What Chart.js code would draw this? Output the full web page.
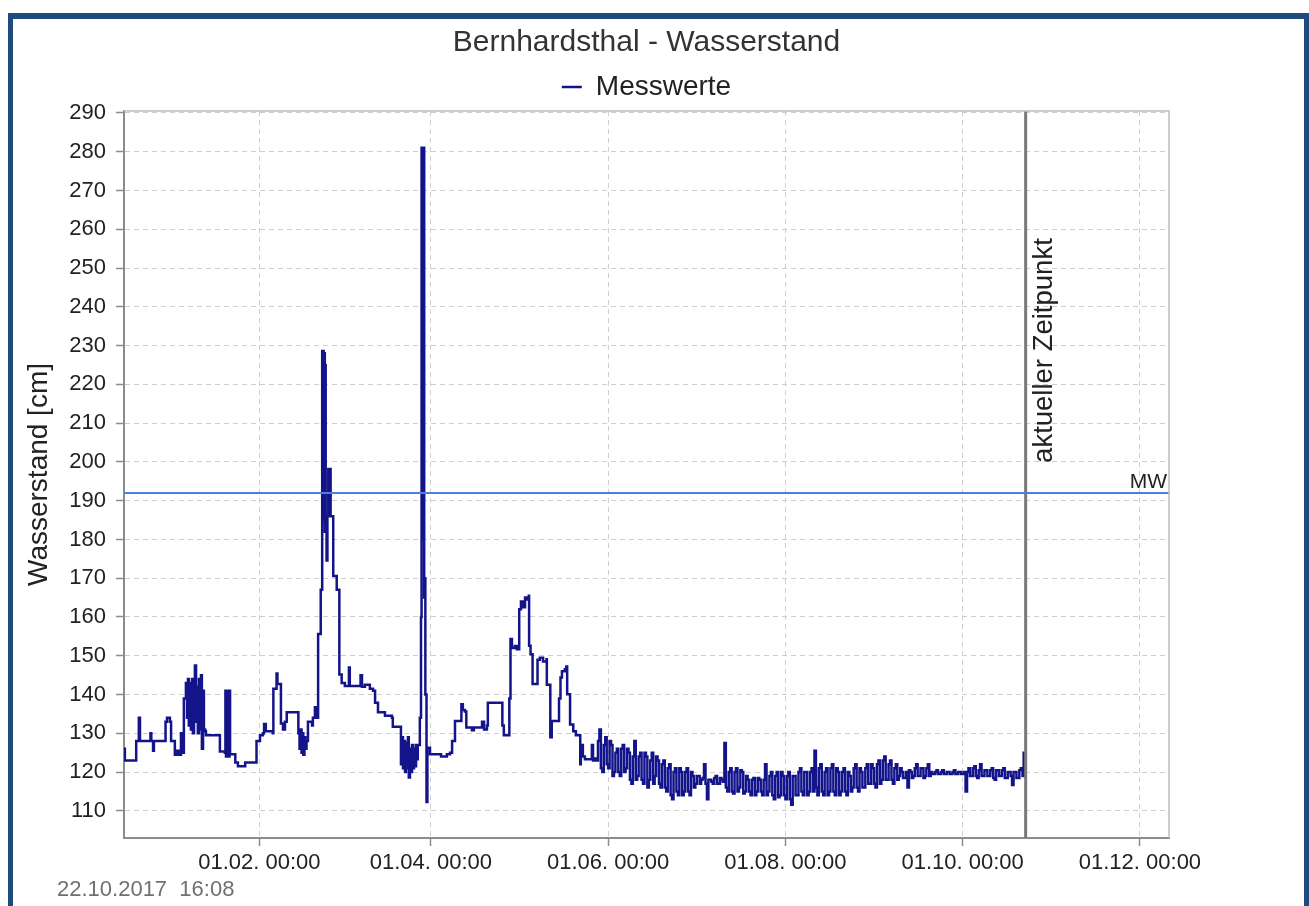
<!DOCTYPE html>
<html>
<head>
<meta charset="utf-8">
<title>Bernhardsthal - Wasserstand</title>
<script src="https://cdn.jsdelivr.net/npm/chart.js@4.4.1/dist/chart.umd.min.js"></script>
<style>
  html, body { margin: 0; padding: 0; background: #fff; overflow: hidden; }
  #frame { position: absolute; left: 8px; top: 13px; width: 1291px; height: 1000px;
           border: 5px solid #1f4a80; border-top-width: 6px; }
  #chart { position: absolute; left: 0; top: 0; }
</style>
</head>
<body>
<div id="frame"></div>
<canvas id="chart" width="1309" height="906"></canvas>
<script>
// Tage ab 01.01.2017 (negativ = Dezember 2016), Wasserstand in cm
// Winter/Fruehjahr bis Ende Mai
const days = [
  -15.6, -15.3, -11.5, -11.4, -10.5, -10.1, -6.7, -6.5, -6.2, -5.6, -5.3, -1.5, -1.3, -0.8, 0.2, 0.6,
  1.2, 1.9, 2.6, 3.3, 4.0, 4.3, 5.0, 5.7, 6.1, 6.4, 6.7, 7.1, 7.4, 7.8, 8.1, 8.5, 8.8, 9.2, 9.5, 9.8,
  10.2, 10.5, 10.9, 11.2, 11.6, 11.9, 12.3, 12.6, 17.1, 17.4, 19.1, 19.3, 19.5, 19.6, 19.8, 20.0, 20.2,
  20.3, 20.5, 20.7, 20.9, 22.6, 22.7, 23.6, 26.1, 29.8, 30.0, 31.2, 32.2, 32.6, 33.2, 35.6, 35.8, 36.9,
  37.2, 38.2, 38.4, 39.1, 39.8, 40.4, 44.3, 44.4, 44.8, 45.1, 45.5, 45.8, 46.1, 46.5, 46.8, 47.2, 47.7,
  49.1, 49.4, 50.1, 50.8, 51.2, 52.1, 52.6, 52.8, 53.0, 53.1, 53.3, 53.5, 53.6, 53.8, 54.1, 54.4, 54.7,
  55.5, 56.4, 57.6, 58.5, 59.3, 60.4, 61.8, 62.1, 65.8, 66.3, 67.3, 69.0, 70.1, 70.8, 71.8, 74.2, 76.6,
  76.9, 79.4, 79.7, 80.1, 80.4, 80.8, 81.1, 81.4, 81.8, 82.1, 82.4, 82.8, 83.1, 83.5, 83.9, 84.2, 84.5,
  84.9, 85.2, 85.5, 86.2, 86.6, 86.8, 87.0, 87.2, 87.4, 87.5, 87.7, 87.9, 88.1, 88.5, 88.8, 89.7, 93.1,
  93.5, 95.2, 95.5, 96.6, 97.3, 98.3, 100.3, 100.5, 101.0, 101.7, 102.2, 103.4, 104.1, 104.8, 106.9,
  107.6, 108.3, 109.3, 109.6, 114.5, 114.6, 115.1, 116.9, 117.0, 117.4, 117.9, 118.9, 119.6, 120.4,
  121.0, 121.7, 122.4, 123.1, 123.7, 123.8, 124.3, 125.0, 126.6, 126.7, 127.5, 128.6, 129.8, 129.9,
  131.0, 131.1, 131.6, 133.7, 134.1, 134.6, 135.1, 136.1, 136.6, 136.9, 137.9, 139.0, 139.9, 141.3,
  141.4, 141.6, 142.3, 143.0, 144.7, 145.4, 145.8, 146.5
];
const levels = [
  126, 123, 123, 128, 134, 128, 128, 130, 128, 125.5, 128, 128, 133, 134, 133, 128,
  128, 124.5, 125.5, 124.5, 130, 125, 139, 143, 134, 144, 132, 143, 131, 144, 130, 142, 147.5, 133, 142, 130,
  144, 131, 145, 126, 141, 131, 130.5, 129.5, 129.5, 125.3, 125, 141, 124, 141, 124, 141, 124,
  141, 124, 141, 124.6, 124.6, 122.5, 121.5, 122.5, 122.5, 128, 129.5, 130, 132.4, 130.5, 130, 141.5, 145.4,
  142.7, 142.7, 132.5, 131, 133, 135.4, 135.4, 130, 126, 131, 125, 130, 124.5, 129, 126, 128, 133,
  132, 134, 136.7, 134, 155.6, 167, 228.6, 190, 228.6, 185, 228, 182, 225, 186, 174.6, 186, 198.2,
  186, 170.6, 167, 145.2, 143, 142.2, 147, 142.2, 145, 142, 142.5, 141.5, 141, 137.9, 135.4, 134.5, 134,
  131.7, 131.7, 122, 129, 121, 128, 120, 127.5, 121, 129, 118.6, 126, 120, 127, 121, 126, 121.5,
  127, 123.3, 127, 134, 160, 281, 200, 281, 180, 281, 165, 170, 140, 112.3, 126.3, 124.6, 124.6,
  124, 124, 124.6, 125, 128, 133.2, 133.2, 137.5, 136, 135.6, 131.5, 131.5, 130.8, 131.5, 131.5,
  133, 131, 132, 137.9, 137.9, 132, 129.5, 129.5, 139, 154.3, 152, 152.5, 151.7, 162,
  164, 162.5, 165, 164.5, 165.5, 152.6, 150.4, 142.7, 142.7, 149, 149.5, 148.5, 149.1, 142.5,
  142.5, 129, 133.2, 133.2, 139, 144.4, 146, 146.5, 147.2, 140.1, 132.3, 130.5, 129.5, 129.5,
  122, 127, 124, 123.3, 123.3, 127, 123, 123.5
];

// Sommer/Herbst: stark schwankende Messwerte (12-h-Raster) bis zum aktuellen Zeitpunkt
const bandDays = [
  147, 147.5, 148, 148.5, 149, 149.5, 150, 150.5, 151, 151.5, 152, 152.5, 153, 153.5, 154, 154.5, 155, 155.5, 156, 156.5,
  157, 157.5, 158, 158.5, 159, 159.5, 160, 160.5, 161, 161.5, 162, 162.5, 163, 163.5, 164, 164.5, 165, 165.5, 166, 166.5,
  167, 167.5, 168, 168.5, 169, 169.5, 170, 170.5, 171, 171.5, 172, 172.5, 173, 173.5, 174, 174.5, 175, 175.5, 176, 176.5,
  177, 177.5, 178, 178.5, 179, 179.5, 180, 180.5, 181, 181.5, 182, 182.5, 183, 183.5, 184, 184.5, 185, 185.5, 186, 186.5,
  187, 187.5, 188, 188.5, 189, 189.5, 190, 190.5, 191, 191.5, 192, 192.5, 193, 193.5, 194, 194.5, 195, 195.5, 196, 196.5,
  197, 197.5, 198, 198.5, 199, 199.5, 200, 200.5, 201, 201.5, 202, 202.5, 203, 203.5, 204, 204.5, 205, 205.5, 206, 206.5,
  207, 207.5, 208, 208.5, 209, 209.5, 210, 210.5, 211, 211.5, 212, 212.5, 213, 213.5, 214, 214.5, 215, 215.5, 216, 216.5,
  217, 217.5, 218, 218.5, 219, 219.5, 220, 220.5, 221, 221.5, 222, 222.5, 223, 223.5, 224, 224.5, 225, 225.5, 226, 226.5,
  227, 227.5, 228, 228.5, 229, 229.5, 230, 230.5, 231, 231.5, 232, 232.5, 233, 233.5, 234, 234.5, 235, 235.5, 236, 236.5,
  237, 237.5, 238, 238.5, 239, 239.5, 240, 240.5, 241, 241.5, 242, 242.5, 243, 243.5, 244, 244.5, 245, 245.5, 246, 246.5,
  247, 247.5, 248, 248.5, 249, 249.5, 250, 250.5, 251, 251.5, 252, 252.5, 253, 253.5, 254, 254.5, 255, 255.5, 256, 256.5,
  257, 257.5, 258, 258.5, 259, 259.5, 260, 260.5, 261, 261.5, 262, 262.5, 263, 263.5, 264, 264.5, 265, 265.5, 266, 266.5,
  267, 267.5, 268, 268.5, 269, 269.5, 270, 270.5, 271, 271.5, 272, 272.5, 273, 273.5, 274, 274.5, 275, 275.5, 276, 276.5,
  277, 277.5, 278, 278.5, 279, 279.5, 280, 280.5, 281, 281.5, 282, 282.5, 283, 283.5, 284, 284.5, 285, 285.5, 286, 286.5,
  287, 287.5, 288, 288.5, 289, 289.5, 290, 290.5, 291, 291.5, 292, 292.5, 293, 293.6, 294.0, 294.2
];
const bandLevels = [
  123, 128, 131, 121, 120, 127, 129, 122, 121, 128, 127, 119, 120, 125, 126, 120, 119, 126, 127, 120,
  121, 126, 125, 118, 117, 124, 128, 118, 119, 124, 125, 118, 117, 125, 124, 116, 118, 123, 125, 117,
  119, 124, 123, 117, 116, 122, 123, 116, 115, 121, 122, 114, 113, 120, 121, 115, 114, 121, 120, 114,
  115, 120, 121, 115, 114, 120, 119, 116, 117, 119, 119, 117, 118, 118.5, 122, 117, 113, 118, 118, 117.5,
  117, 118.5, 119, 117, 117, 118.5, 118, 117.5, 127.5, 116, 115, 120, 121, 115, 114.5, 120, 121, 115, 116, 120.5,
  120, 114.5, 115, 119, 118, 115, 114, 118, 118.5, 114, 115, 118.5, 118, 115, 114, 118, 122, 114, 115, 119,
  120, 114, 113, 119, 120, 113.5, 114, 120, 119, 114, 113, 119, 120, 113, 111.6, 119, 119, 114, 114, 120,
  121, 115, 114, 120, 120, 114, 115, 120, 121, 115, 125.5, 116, 114, 121, 122, 115, 114, 120, 121, 114,
  115, 121, 122, 115, 114, 121, 120, 114, 115, 120, 121, 115, 114, 120, 119, 115, 116, 121, 122, 116,
  115, 121, 120, 116, 116, 121, 122, 117, 117, 122, 121, 117, 116, 122, 123, 117, 118, 123, 124, 118,
  118, 122, 123, 118, 117, 121, 122, 118, 119, 121, 120, 118.5, 118.5, 120, 116, 120.5, 120, 118.5, 119, 121,
  122, 119, 119, 121, 121, 118.5, 119, 121, 122, 119, 120, 119.5, 119.5, 120, 120.5, 119.5, 119.5, 120, 120.5, 119.5,
  119.5, 120, 120, 119.5, 119.5, 120, 120.5, 119.5, 119.5, 120, 120, 119.5, 119.5, 120, 115, 120, 121, 119, 119, 121,
  121.5, 119, 118.5, 120.5, 122, 119, 119, 120.5, 120.5, 119, 119, 120.5, 121, 118.5, 118, 120.5, 120.5, 119, 119, 120.5,
  121, 118.5, 118.5, 120, 120, 119, 116.7, 120, 120, 118.5, 118.5, 120.5, 121, 119, 125, 119
];

const tickDays = [31, 90, 151, 212, 273, 334];
const tickLabels = ['01.02. 00:00', '01.04. 00:00', '01.06. 00:00', '01.08. 00:00', '01.10. 00:00', '01.12. 00:00'];
const yTicks = [110, 120, 130, 140, 150, 160, 170, 180, 190, 200, 210, 220, 230, 240, 250, 260, 270, 280, 290];

const mwLevel = 192;          // Mittelwasser
const nowDay = 294.67;        // 22.10.2017 16:08
const stampText = '22.10.2017  16:08';
const xMin = -15.6, xMax = 344;
const yMin = 103.0, yMax = 290.5;

const FONT = '"Liberation Sans", Arial, sans-serif';
Chart.defaults.font.family = FONT;

const allDays = days.concat(bandDays);
const allLevels = levels.concat(bandLevels);

const gridStyle = { color: '#cfcfcf', lineWidth: 1, tickLength: 8, tickColor: '#8c8c8c', tickWidth: 1.5 };
const borderStyle = { color: '#8c8c8c', width: 2, dash: [5, 4] };

// Rahmen, Beschriftungen MW / aktueller Zeitpunkt, Zeitstempel
const extrasPlugin = {
  id: 'extras',
  afterDatasetsDraw(chart) {
    const ctx = chart.ctx;
    const area = chart.chartArea;
    const xs = chart.scales.x, ys = chart.scales.y;
    ctx.save();
    ctx.strokeStyle = '#bdbdbd';
    ctx.lineWidth = 1.5;
    ctx.beginPath();
    ctx.moveTo(area.left, area.top);
    ctx.lineTo(area.right, area.top);
    ctx.lineTo(area.right, area.bottom);
    ctx.stroke();

    const yMw = ys.getPixelForValue(mwLevel);
    ctx.fillStyle = '#222';
    ctx.font = '21px ' + FONT;
    ctx.textAlign = 'right';
    ctx.textBaseline = 'alphabetic';
    ctx.fillText('MW', area.right - 2, yMw - 5);

    ctx.translate(xs.getPixelForValue(nowDay) + 26, yMw - 30);
    ctx.rotate(-Math.PI / 2);
    ctx.textAlign = 'left';
    ctx.font = '27.5px ' + FONT;
    ctx.fillText('aktueller Zeitpunkt', 0, 0);
    ctx.restore();

    ctx.save();
    ctx.fillStyle = '#707070';
    ctx.font = '22px ' + FONT;
    ctx.textAlign = 'left';
    ctx.textBaseline = 'middle';
    ctx.fillText(stampText, 57, 890);
    ctx.restore();
  }
};

new Chart(document.getElementById('chart'), {
  type: 'line',
  data: {
    datasets: [
      {
        label: 'MW',
        data: [{ x: xMin, y: mwLevel }, { x: xMax, y: mwLevel }],
        borderColor: '#4d7fe0',
        borderWidth: 2,
        pointRadius: 0
      },
      {
        label: 'aktueller Zeitpunkt',
        data: [{ x: nowDay, y: yMin }, { x: nowDay, y: yMax }],
        borderColor: '#787878',
        borderWidth: 3,
        pointRadius: 0
      },
      {
        label: 'Messwerte',
        data: allDays.map((d, i) => ({ x: d, y: allLevels[i] })),
        borderColor: '#14148a',
        borderWidth: 2.5,
        pointRadius: 0,
        stepped: true
      }
    ]
  },
  options: {
    responsive: false,
    animation: false,
    layout: { padding: { left: 0, right: 140, top: 0, bottom: 0 } },
    plugins: {
      title: {
        display: true,
        fullSize: false,
        text: 'Bernhardsthal - Wasserstand',
        color: '#333',
        font: { size: 30, weight: 'normal' },
        padding: { top: 25, bottom: 2 }
      },
      legend: {
        fullSize: false,
        labels: {
          filter: item => item.datasetIndex === 2,
          usePointStyle: true,
          pointStyle: 'line',
          pointStyleWidth: 20,
          color: '#222',
          font: { size: 28 },
          padding: 10
        }
      },
      tooltip: { enabled: false }
    },
    scales: {
      x: {
        type: 'linear',
        min: xMin,
        max: xMax,
        afterBuildTicks: s => { s.ticks = tickDays.map(v => ({ value: v })); },
        afterFit: s => { s.height = 68; },
        ticks: {
          color: '#222',
          font: { size: 22 },
          padding: 4,
          maxRotation: 0,
          autoSkip: false,
          callback: (v, i) => tickLabels[i]
        },
        grid: gridStyle,
        border: borderStyle
      },
      y: {
        type: 'linear',
        min: yMin,
        max: yMax,
        afterBuildTicks: s => { s.ticks = yTicks.map(v => ({ value: v })); },
        afterFit: s => { s.width = 124; },
        ticks: {
          color: '#222',
          font: { size: 22 },
          padding: 10,
          callback: v => String(v)
        },
        grid: gridStyle,
        border: borderStyle,
        title: {
          display: true,
          text: 'Wasserstand [cm]',
          color: '#222',
          font: { size: 28 },
          padding: { top: 22, bottom: 0 }
        }
      }
    }
  },
  plugins: [extrasPlugin]
});
</script>
</body>
</html>
